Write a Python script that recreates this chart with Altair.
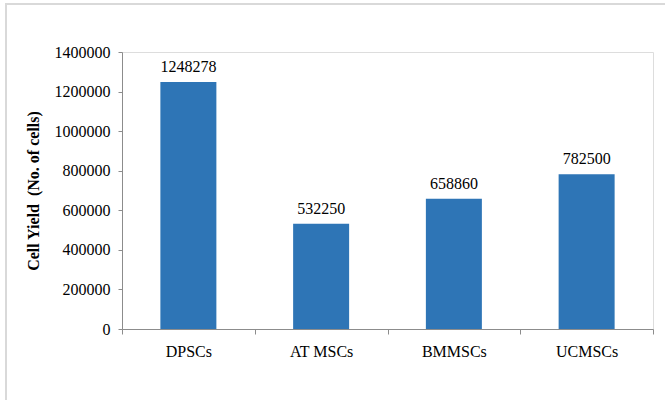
import altair as alt
import pandas as pd

# Cell yield per stem cell source
sources = ["DPSCs", "AT MSCs", "BMMSCs", "UCMSCs"]
cell_yield = [1248278, 532250, 658860, 782500]

df = pd.DataFrame({"source": sources, "cells": cell_yield})

FONT = "Liberation Serif"
W, H = 531, 277

x_enc = alt.X(
    "source:N",
    sort=sources,
    title=None,
    scale=alt.Scale(paddingInner=0, paddingOuter=0),
    axis=alt.Axis(
        labelAngle=0, labelFontSize=16, labelFont=FONT, labelColor="#000000",
        labelPadding=9, tickBand="extent", tickSize=5, domainColor="#8c8c8c",
        tickColor="#8c8c8c", labelOverlap=False,
    ),
)
y_enc = alt.Y(
    "cells:Q",
    title="Cell Yield\u00a0\u00a0(No. of cells)",
    scale=alt.Scale(domain=[0, 1400000]),
    axis=alt.Axis(
        values=list(range(0, 1400001, 200000)), format="d", grid=False,
        labelFontSize=16, labelFont=FONT, labelColor="#000000", labelPadding=8,
        labelOverlap=False, labelFlush=False,
        tickSize=4, domainColor="#8c8c8c", tickColor="#8c8c8c",
        titleFont=FONT, titleFontSize=16, titleFontWeight="bold",
        titleColor="#000000", titlePadding=13,
    ),
)

base = alt.Chart(df).encode(x=x_enc, y=y_enc)

bars = base.mark_bar(size=56, color="#2E75B6")

labels = base.mark_text(
    baseline="alphabetic", dy=-10, fontSize=16, font=FONT, color="#000000"
).encode(text=alt.Text("cells:Q", format="d"))

# Light frame around the figure
frame = alt.Chart(df).mark_rect(
    fill=None, stroke="#d9d9d9", strokeWidth=2
).encode(
    x=alt.value(-116), x2=alt.value(640), y=alt.value(-48), y2=alt.value(420)
)

chart = alt.layer(bars, labels, frame).properties(
    width=W, height=H,
    autosize=alt.AutoSizeParams(type="none"),
    padding={"left": 122, "top": 52, "right": 12, "bottom": 71},
).configure_view(stroke=None).configure(background="white", font=FONT)

chart.save("out.html", embed_options={"renderer": "svg", "actions": False})
